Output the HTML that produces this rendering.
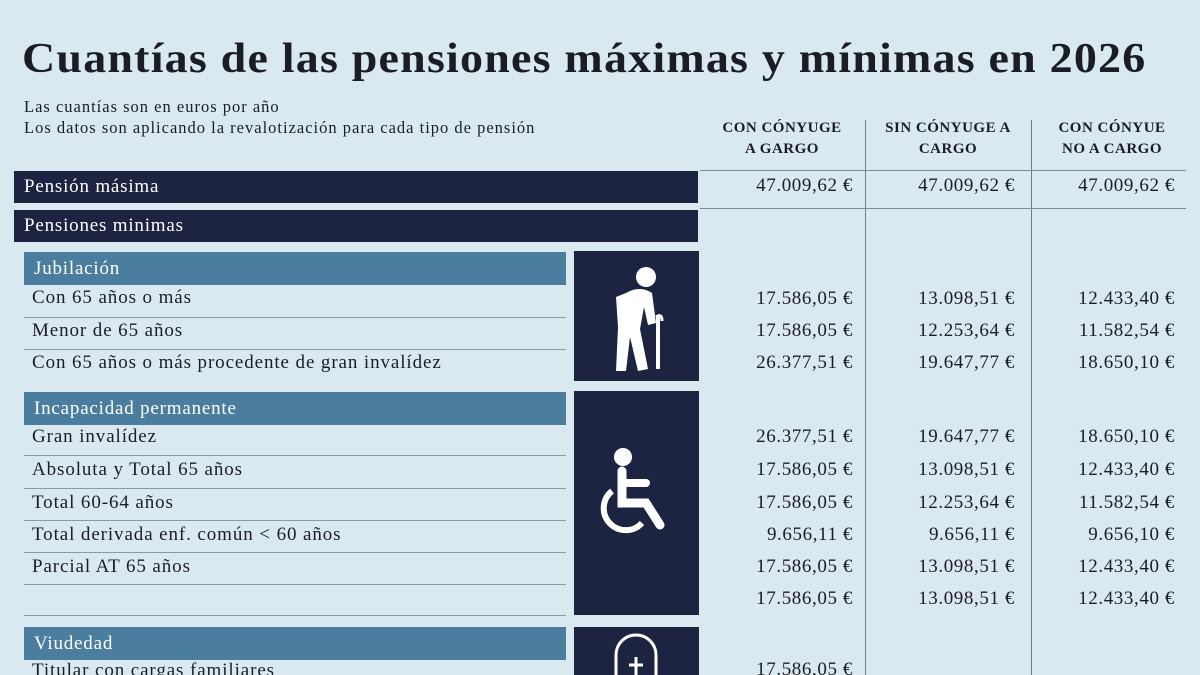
<!DOCTYPE html>
<html style="width:1200px;height:675px;overflow:hidden"><head><meta charset="utf-8"><style>
body{margin:0;width:1200px;height:675px;overflow:hidden;background:#dae8ef;font-family:"Liberation Serif",serif;color:#1b1d26;position:relative}
div,span{position:absolute}
.t{left:22px;top:33px;font-size:46px;font-weight:bold;letter-spacing:1.2px;white-space:nowrap;transform:scaleY(0.93);transform-origin:0 0}
.s{left:24px;font-size:16.5px;letter-spacing:1px}
.h{font-size:15px;font-weight:bold;text-align:center;line-height:21px;width:170px;top:118px;letter-spacing:0.5px}
.bar{background:#1c2442;color:#fff;font-size:19px;padding-left:10px;line-height:32px;left:14px;width:674px;height:32px;letter-spacing:0.8px}
.sec{background:#4b7e9e;color:#fff;font-size:19px;padding-left:10px;line-height:33px;left:24px;width:532px;height:33px;letter-spacing:0.8px}
.ico{background:#1c2442;left:574px;width:125px;overflow:hidden}
.r{left:32px;font-size:19px;white-space:nowrap;letter-spacing:0.9px}
.ln{left:24px;width:542px;height:1px;background:#8a9aa6}
.v{font-size:19px;text-align:right;width:160px;white-space:nowrap;letter-spacing:0.6px}
.c1{left:693px}.c2{left:855px}.c3{left:1015px}
.hl{height:1px;background:#7a8a96;left:700px;width:486px}
.vl{width:1px;background:#6d7d8a;top:120px;height:555px}
</style></head><body>
<div class="t">Cuantías de las pensiones máximas y mínimas en 2026</div>
<div class="s" style="top:97px">Las cuantías son en euros por año</div>
<div class="s" style="top:118px">Los datos son aplicando la revalotización para cada tipo de pensión</div>
<div class="h" style="left:697px">CON CÓNYUGE<br>A GARGO</div>
<div class="h" style="left:863px">SIN CÓNYUGE A<br>CARGO</div>
<div class="h" style="left:1027px">CON CÓNYUE<br>NO A CARGO</div>
<div class="vl" style="left:865px"></div><div class="vl" style="left:1031px"></div>
<div class="hl" style="top:170px"></div><div class="hl" style="top:208px"></div>
<div class="bar" style="top:171px">Pensión másima</div>
<div class="bar" style="top:210px">Pensiones minimas</div>
<div class="v c1" style="top:175px">47.009,62 €</div><div class="v c2" style="top:175px">47.009,62 €</div><div class="v c3" style="top:175px">47.009,62 €</div>

<div class="sec" style="top:252px">Jubilación</div>
<div class="ico" style="top:251px;height:130px">
<svg width="125" height="130" viewBox="0 0 125 130"><g fill="#fff"><circle cx="72" cy="26" r="10"/><path d="M52 42 q14-8 26 0 l4 30 -8 2 -4-18 -4 22 8 40 -10 2 -8-34 -4 34 -10 0 2-44 -2-30z"/></g><path d="M84 66 l0 52" stroke="#fff" stroke-width="4"/><path d="M82 66 q6-4 6 4" stroke="#fff" stroke-width="3" fill="none"/></svg></div>
<div class="r" style="top:287px">Con 65 años o más</div><div class="ln" style="top:317px"></div>
<div class="r" style="top:320px">Menor de 65 años</div><div class="ln" style="top:349px"></div>
<div class="r" style="top:352px">Con 65 años o más procedente de gran invalídez</div>
<div class="v c1" style="top:288px">17.586,05 €</div><div class="v c2" style="top:288px">13.098,51 €</div><div class="v c3" style="top:288px">12.433,40 €</div>
<div class="v c1" style="top:320px">17.586,05 €</div><div class="v c2" style="top:320px">12.253,64 €</div><div class="v c3" style="top:320px">11.582,54 €</div>
<div class="v c1" style="top:352px">26.377,51 €</div><div class="v c2" style="top:352px">19.647,77 €</div><div class="v c3" style="top:352px">18.650,10 €</div>

<div class="sec" style="top:392px">Incapacidad permanente</div>
<div class="ico" style="top:391px;height:224px">
<svg width="125" height="224" viewBox="0 0 125 224"><circle cx="49" cy="66" r="9" fill="#fff"/><path d="M48 80 v32 h24 l14 22" stroke="#fff" stroke-width="9" fill="none" stroke-linecap="round"/><path d="M48 92 h24" stroke="#fff" stroke-width="8" stroke-linecap="round"/><path d="M38 100 a22 22 0 1 0 30 32" stroke="#fff" stroke-width="6" fill="none"/></svg></div>
<div class="r" style="top:426px">Gran invalídez</div><div class="ln" style="top:455px"></div>
<div class="r" style="top:459px">Absoluta y Total 65 años</div><div class="ln" style="top:488px"></div>
<div class="r" style="top:492px">Total 60-64 años</div><div class="ln" style="top:520px"></div>
<div class="r" style="top:524px">Total derivada enf. común &lt; 60 años</div><div class="ln" style="top:552px"></div>
<div class="r" style="top:556px">Parcial AT 65 años</div><div class="ln" style="top:584px"></div><div class="ln" style="top:615px"></div>
<div class="v c1" style="top:426px">26.377,51 €</div><div class="v c2" style="top:426px">19.647,77 €</div><div class="v c3" style="top:426px">18.650,10 €</div>
<div class="v c1" style="top:459px">17.586,05 €</div><div class="v c2" style="top:459px">13.098,51 €</div><div class="v c3" style="top:459px">12.433,40 €</div>
<div class="v c1" style="top:492px">17.586,05 €</div><div class="v c2" style="top:492px">12.253,64 €</div><div class="v c3" style="top:492px">11.582,54 €</div>
<div class="v c1" style="top:524px">9.656,11 €</div><div class="v c2" style="top:524px">9.656,11 €</div><div class="v c3" style="top:524px">9.656,10 €</div>
<div class="v c1" style="top:556px">17.586,05 €</div><div class="v c2" style="top:556px">13.098,51 €</div><div class="v c3" style="top:556px">12.433,40 €</div>
<div class="v c1" style="top:588px">17.586,05 €</div><div class="v c2" style="top:588px">13.098,51 €</div><div class="v c3" style="top:588px">12.433,40 €</div>

<div class="sec" style="top:627px">Viudedad</div>
<div class="ico" style="top:627px;height:48px">
<svg width="125" height="48" viewBox="0 0 125 48"><path d="M42 48 v-20 a20 20 0 0 1 40 0 v20" stroke="#fff" stroke-width="3" fill="none"/><path d="M62 30 v18 M55 38 h14" stroke="#fff" stroke-width="3"/></svg></div>
<div class="r" style="top:660px">Titular con cargas familiares</div>
<div class="v c1" style="top:659px">17.586,05 €</div>
</body></html>
